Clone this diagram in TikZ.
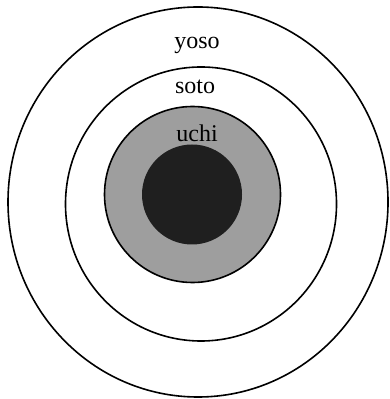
\documentclass[tikz,border=0pt]{standalone}
\usepackage{fontspec}
\setmainfont{Liberation Serif}
\begin{document}
\begin{tikzpicture}[x=0.5pt,y=-0.5pt,every node/.style={font=\fontsize{12}{14}\selectfont,inner sep=1pt}]
\useasboundingbox (0,0) rectangle (389,399);
% outer rings
\draw[line width=0.8pt] (198,202) ellipse [x radius=190,y radius=195];
\draw[line width=0.8pt] (201,204) ellipse [x radius=135.5,y radius=137];
% inner discs
\draw[line width=0.8pt,fill=black!38] (192.5,194.5) circle (88);
\fill[black!88] (192,194.5) circle (50);
% labels
\node (yoso) at (197,45) {yoso};
\node (soto) at (195,87) {soto};
\node (uchi) at (197,133) {uchi};
\end{tikzpicture}
\end{document}
